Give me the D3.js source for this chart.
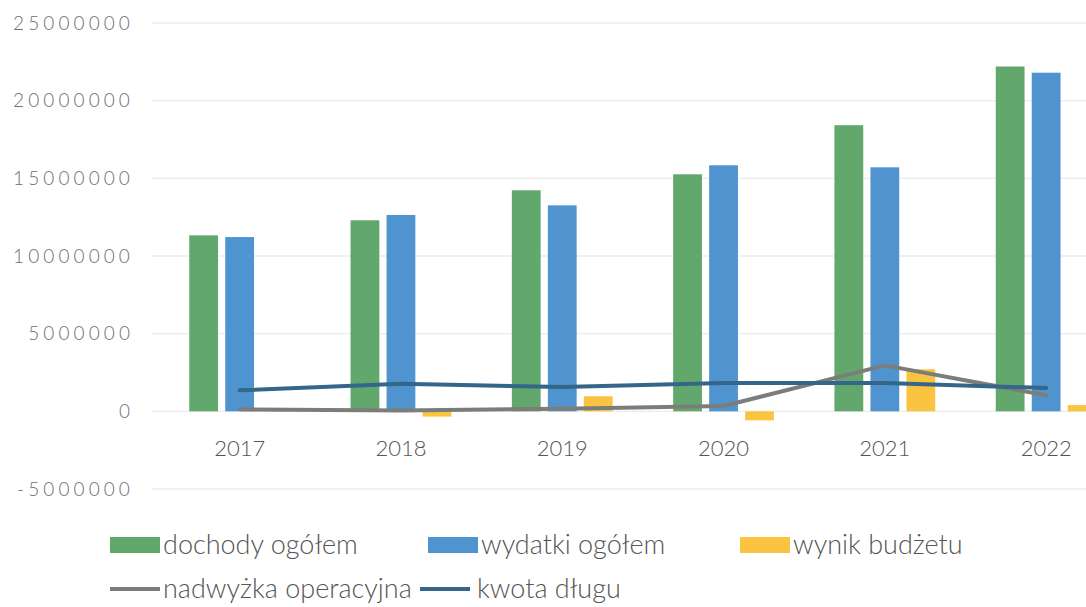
<!DOCTYPE html>
<html>
<head>
<meta charset="utf-8">
<script src="https://cdn.jsdelivr.net/npm/d3@7"></script>
<style>
  body { margin: 0; background: #fff; }
  svg { display: block; font-family: Lato, "Open Sans", sans-serif; }
</style>
</head>
<body>
<div id="chart"></div>
<script>
// Chart data
let years = ["2017", "2018", "2019", "2020", "2021", "2022"];
let dochody = [11330000, 12300000, 14230000, 15260000, 18420000, 22200000];
let wydatki = [11220000, 12640000, 13260000, 15840000, 15710000, 21800000];
let wynik = [110000, -340000, 970000, -580000, 2710000, 400000];
let nadwyzka = [130000, 60000, 170000, 340000, 2960000, 1030000];
let dlug = [1350000, 1780000, 1560000, 1820000, 1820000, 1500000];
let yTicks = [-5000000, 0, 5000000, 10000000, 15000000, 20000000, 25000000];

let barSeries = [
  { name: "dochody ogółem", values: dochody, color: "#62a86c" },
  { name: "wydatki ogółem", values: wydatki, color: "#5094cf" },
  { name: "wynik budżetu", values: wynik, color: "#fbc440" }
];
let lineSeries = [
  { name: "nadwyżka operacyjna", values: nadwyzka, color: "#7b7d7b" },
  { name: "kwota długu", values: dlug, color: "#336689" }
];

let svgWidth = 1086;
let svgHeight = 607;

let svg = d3.select("#chart")
  .append("svg")
  .attr("width", svgWidth)
  .attr("height", svgHeight);

let x = d3.scaleBand()
  .domain(years)
  .range([159, 159 + 6 * 161.3]);

let xSub = d3.scaleBand()
  .domain(barSeries.map(s => s.name))
  .range([-54, 54])
  .paddingInner(0.2)
  .paddingOuter(0.1);

let y = d3.scaleLinear()
  .domain([-5000000, 25000000])
  .range([489, 23]);

// gridlines
svg.append("g")
  .selectAll("line")
  .data(yTicks)
  .join("line")
  .attr("x1", 152)
  .attr("x2", svgWidth)
  .attr("y1", d => y(d))
  .attr("y2", d => y(d))
  .attr("stroke", "#ececec")
  .attr("stroke-width", 1.3);

// y axis labels
let leftAxis = d3.axisLeft(y).tickValues(yTicks).tickSize(0).tickPadding(0)
  .tickFormat(d => String(d));
svg.append("g")
  .attr("transform", "translate(134,0)")
  .call(leftAxis)
  .call(g => g.select(".domain").remove())
  .selectAll("text")
  .attr("font-size", 19)
  .attr("letter-spacing", 4.1)
  .attr("font-weight", 300)
  .attr("fill", "#707070")
  .attr("font-family", "Lato, sans-serif");

// bars
barSeries.forEach(function(s) {
  svg.append("g")
    .selectAll("rect")
    .data(s.values)
    .join("rect")
    .attr("x", (d, i) => x(years[i]) + x.bandwidth() / 2 + xSub(s.name))
    .attr("width", xSub.bandwidth())
    .attr("y", d => Math.min(y(d), y(0)))
    .attr("height", d => Math.abs(y(d) - y(0)))
    .attr("fill", s.color);
});

// lines
lineSeries.forEach(function(s) {
  let drawLine = d3.line()
    .x((d, i) => x(years[i]) + x.bandwidth() / 2)
    .y(d => y(d));
  svg.append("path")
    .attr("d", drawLine(s.values))
    .attr("fill", "none")
    .attr("stroke", s.color)
    .attr("stroke-width", 4)
    .attr("stroke-linejoin", "round")
    .attr("stroke-linecap", "round");
});

// x axis labels
let bottomAxis = d3.axisBottom(x).tickSize(0).tickPadding(0);
svg.append("g")
  .attr("transform", "translate(0,440)")
  .call(bottomAxis)
  .call(g => g.select(".domain").remove())
  .selectAll("text")
  .attr("dy", "0.71em")
  .attr("font-size", 22)
  .attr("font-weight", 300)
  .attr("fill", "#555")
  .attr("font-family", "Lato, sans-serif");

// legend
let legendPos = [[110, 545], [428, 545], [740, 545], [110, 589], [420, 589]];
let legendItems = barSeries.map(s => ({ name: s.name, color: s.color, type: "bar" }))
  .concat(lineSeries.map(s => ({ name: s.name, color: s.color, type: "line" })));

let legend = svg.append("g")
  .selectAll("g")
  .data(legendItems)
  .join("g")
  .attr("transform", (d, i) => `translate(${legendPos[i][0]},${legendPos[i][1]})`);

legend.filter(d => d.type === "bar")
  .append("rect")
  .attr("x", 0)
  .attr("y", -8)
  .attr("width", 50)
  .attr("height", 16)
  .attr("fill", d => d.color);

legend.filter(d => d.type === "line")
  .append("line")
  .attr("x1", 0)
  .attr("x2", 50)
  .attr("stroke", d => d.color)
  .attr("stroke-width", 4);

legend.append("text")
  .attr("x", d => d.name === "kwota długu" ? 57 : 53)
  .attr("dy", "0.35em")
  .attr("font-size", 27)
  .attr("font-weight", 300)
  .attr("fill", "#555")
  .text(d => d.name);
</script>
</body>
</html>
